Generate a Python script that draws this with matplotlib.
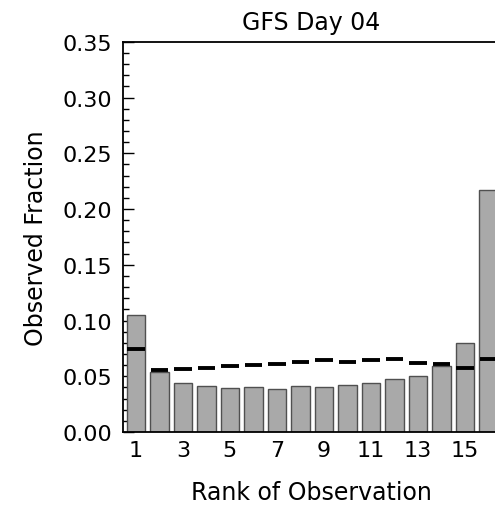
import numpy as np
import matplotlib
matplotlib.use("Agg")
import matplotlib.pyplot as plt
from matplotlib.ticker import MultipleLocator

# rank histogram values
ranks = np.arange(1, 17)
observed = [0.105, 0.0535, 0.044, 0.0413, 0.0392, 0.0401, 0.0389, 0.041,
            0.0404, 0.0425, 0.0437, 0.0476, 0.0506, 0.0596, 0.0796, 0.2167]
expected = [0.0745, 0.056, 0.0563, 0.0572, 0.0596, 0.0599, 0.0614, 0.0628,
            0.0646, 0.0628, 0.0644, 0.0653, 0.0620, 0.0608, 0.0578, 0.0652]
xtick_labels = ['1', '3', '5', '7', '9', '11', '13', '15']

plt.rcParams['font.family'] = ['DejaVu Sans']

fig = plt.figure(figsize=(4.95, 5.06), dpi=100)
ax = fig.add_axes([0.2485, 0.1443, 0.762, 0.771])

ax.bar(ranks, observed, width=0.8, color='#a9a9a9', edgecolor='#505050',
       linewidth=1.0, zorder=2)
ax.hlines(expected, ranks - 0.38, ranks + 0.38, colors='black',
          linewidth=2.8, zorder=3)

ax.set_xlim(0.45, 16.5)
ax.set_ylim(0.0, 0.35)

ax.set_xticks(ranks[::2])
ax.set_xticklabels(xtick_labels)
ax.tick_params(axis='x', length=0, pad=6, labelsize=16)

ax.yaxis.set_major_locator(MultipleLocator(0.05))
ax.yaxis.set_minor_locator(MultipleLocator(0.01))
ax.set_yticks(np.arange(0, 0.351, 0.05))
ax.set_yticklabels(["%.2f" % v for v in np.arange(0, 0.351, 0.05)])
ax.tick_params(axis='y', which='major', direction='in', length=8,
               width=1.0, labelsize=16, right=False, pad=8)
ax.tick_params(axis='y', which='minor', direction='in', length=4,
               width=1.0, right=False)

for sp in ax.spines.values():
    sp.set_linewidth(1.3)

ax.set_title('GFS Day 04', fontsize=17, pad=9)
ax.set_xlabel('Rank of Observation', fontsize=17, labelpad=14)
ax.set_ylabel('Observed Fraction', fontsize=17, labelpad=10)

fig.savefig('out.png', dpi=100)
